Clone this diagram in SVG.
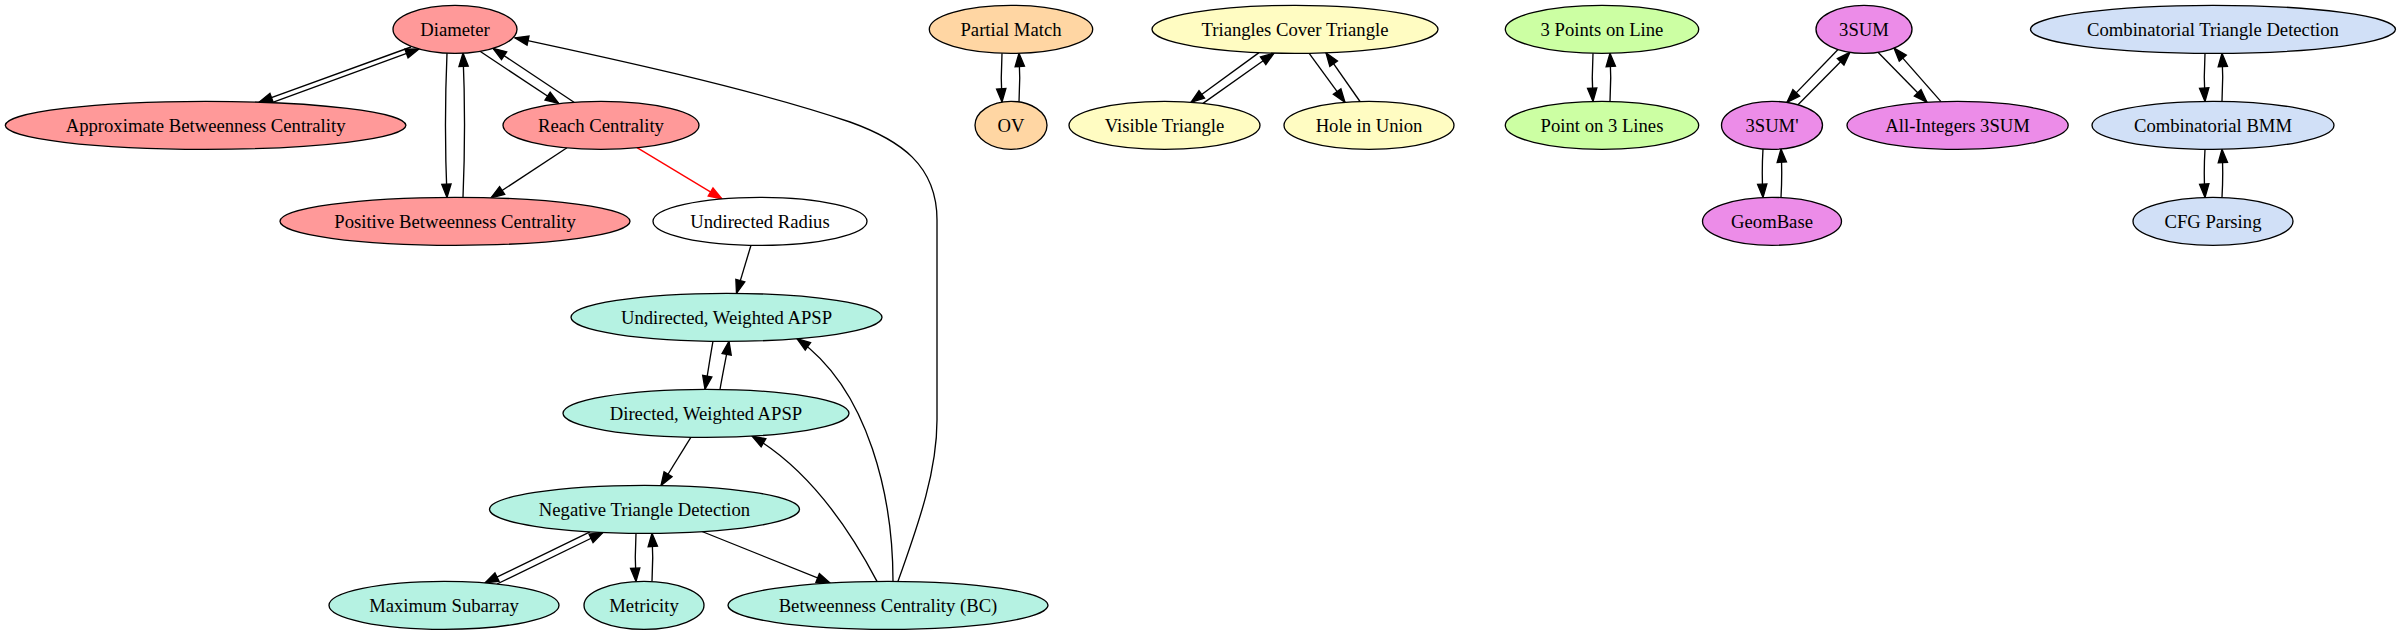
<svg xmlns="http://www.w3.org/2000/svg" width="2401" height="635" viewBox="0 0 2401 635">
<style>
.n ellipse{stroke:#000;stroke-width:1.33}
.n text{font-family:"Liberation Serif","Times New Roman",serif;font-size:18.67px;text-anchor:middle;fill:#000}
.red ellipse{fill:#ff9999}
.teal ellipse{fill:#b5f2e2}
.white ellipse{fill:#ffffff}
.orange ellipse{fill:#ffd6a3}
.yellow ellipse{fill:#fffcc2}
.green ellipse{fill:#ccffa3}
.mag ellipse{fill:#ec8ce8}
.blue ellipse{fill:#d1e0f7}
#edges path{fill:none;stroke:#000;stroke-width:1.33;marker-end:url(#ah)}
#edges path.r{stroke:#ff0000;marker-end:url(#ahr)}
</style>
<defs>
<marker id="ah" viewBox="0 0 14 10" refX="13.33" refY="5" markerWidth="14" markerHeight="10" orient="auto" markerUnits="userSpaceOnUse" overflow="visible"><path d="M0,0.33 L13.33,5 L0,9.67 z" fill="#000" stroke="#000" stroke-width="1.33"/></marker>
<marker id="ahr" viewBox="0 0 14 10" refX="13.33" refY="5" markerWidth="14" markerHeight="10" orient="auto" markerUnits="userSpaceOnUse" overflow="visible"><path d="M0,0.33 L13.33,5 L0,9.67 z" fill="#ff0000" stroke="#ff0000" stroke-width="1.33"/></marker>
</defs>
<rect width="2401" height="635" fill="#fff"/>
<g id="edges">
<path d="M411,47 L259,102.2"/>
<path d="M272,102.7 L419,48.9"/>
<path d="M480,51.3 L558.7,103.5"/>
<path d="M574,102.3 L493,48.3"/>
<path d="M447,53.1 C445,100 445,150 447,197.4"/>
<path d="M463,197.4 C465,150 465,100 463,53.1"/>
<path d="M567,147.8 L491,197.8"/>
<path class="r" d="M637,147.6 L722,198.9"/>
<path d="M751,245.2 L736.5,293.4"/>
<path d="M713,341.2 C710,358 708,372 705,389.3"/>
<path d="M720,389.4 C723,372 726,358 729,341.3"/>
<path d="M691,437.2 L661,485.5"/>
<path d="M590,531.8 L485,582.9"/>
<path d="M497,584 L603,532.5"/>
<path d="M636,533.3 C635,550 635,565 636,581.5"/>
<path d="M652,581.5 C653,565 653,550 652,533.2"/>
<path d="M702,531.5 L830,582.9"/>
<path d="M877,581.4 C850,530 810,470 752,436"/>
<path d="M893,581.3 C893,500 870,390 797,338.7"/>
<path d="M898,581.3 C920,520 937,470 937,420 L937,220 C937,165 900,140 850,122 C750,88 600,56 515,37.8"/>
<path d="M1002,53.2 C1001,70 1001,85 1002,102.1"/>
<path d="M1019,102.3 C1020,85 1020,70 1019,53.2"/>
<path d="M1259,52.6 L1191,102.3"/>
<path d="M1203,103.4 L1274,53.1"/>
<path d="M1309,53.2 L1345,102.3"/>
<path d="M1360,101.5 L1326,52.8"/>
<path d="M1593,53.2 C1592,70 1592,85 1593,101.5"/>
<path d="M1610,101.5 C1611,85 1611,70 1610,53.2"/>
<path d="M1838,49.5 L1787,102.4"/>
<path d="M1798,104.8 L1850,52.3"/>
<path d="M1878,52.3 L1927,102.3"/>
<path d="M1941,101.6 L1894,48.1"/>
<path d="M1763,148.9 C1762,165 1762,180 1763,197.5"/>
<path d="M1781,197.5 C1782,180 1782,165 1781,148.9"/>
<path d="M2205,53.3 C2204,70 2204,85 2205,101.4"/>
<path d="M2222,101.4 C2223,85 2223,70 2222,53.3"/>
<path d="M2205,149.3 C2204,165 2204,180 2205,197.4"/>
<path d="M2222,197.4 C2223,180 2223,165 2222,149.3"/>
</g>
<g id="node-diameter" class="n red"><ellipse cx="455" cy="29.33" rx="62" ry="24"/><text x="455" y="35.6">Diameter</text></g>
<g id="node-abc" class="n red"><ellipse cx="205.6" cy="125.33" rx="200.3" ry="24"/><text x="205.6" y="131.6">Approximate Betweenness Centrality</text></g>
<g id="node-reach" class="n red"><ellipse cx="601" cy="125.33" rx="98" ry="24"/><text x="601" y="131.6">Reach Centrality</text></g>
<g id="node-pbc" class="n red"><ellipse cx="455" cy="221.33" rx="175" ry="24"/><text x="455" y="227.6">Positive Betweenness Centrality</text></g>
<g id="node-urad" class="n white"><ellipse cx="760" cy="221.33" rx="107" ry="24"/><text x="760" y="227.6">Undirected Radius</text></g>
<g id="node-uwapsp" class="n teal"><ellipse cx="726.5" cy="317.33" rx="155.5" ry="24"/><text x="726.5" y="323.6">Undirected, Weighted APSP</text></g>
<g id="node-dwapsp" class="n teal"><ellipse cx="706" cy="413.33" rx="143" ry="24"/><text x="706" y="419.6">Directed, Weighted APSP</text></g>
<g id="node-ntd" class="n teal"><ellipse cx="644.5" cy="509.33" rx="155" ry="24"/><text x="644.5" y="515.6">Negative Triangle Detection</text></g>
<g id="node-maxsub" class="n teal"><ellipse cx="444" cy="605.33" rx="115" ry="24"/><text x="444" y="611.6">Maximum Subarray</text></g>
<g id="node-metricity" class="n teal"><ellipse cx="644" cy="605.33" rx="60" ry="24"/><text x="644" y="611.6">Metricity</text></g>
<g id="node-bc" class="n teal"><ellipse cx="888" cy="605.33" rx="160" ry="24"/><text x="888" y="611.6">Betweenness Centrality (BC)</text></g>
<g id="node-pm" class="n orange"><ellipse cx="1011" cy="29.33" rx="81.7" ry="24"/><text x="1011" y="35.6">Partial Match</text></g>
<g id="node-ov" class="n orange"><ellipse cx="1011" cy="125.33" rx="36" ry="24"/><text x="1011" y="131.6">OV</text></g>
<g id="node-tct" class="n yellow"><ellipse cx="1295" cy="29.33" rx="143" ry="24"/><text x="1295" y="35.6">Triangles Cover Triangle</text></g>
<g id="node-vis" class="n yellow"><ellipse cx="1164.5" cy="125.33" rx="95.5" ry="24"/><text x="1164.5" y="131.6">Visible Triangle</text></g>
<g id="node-hole" class="n yellow"><ellipse cx="1369" cy="125.33" rx="85" ry="24"/><text x="1369" y="131.6">Hole in Union</text></g>
<g id="node-3pol" class="n green"><ellipse cx="1602" cy="29.33" rx="96.7" ry="24"/><text x="1602" y="35.6">3 Points on Line</text></g>
<g id="node-po3l" class="n green"><ellipse cx="1602" cy="125.33" rx="96.7" ry="24"/><text x="1602" y="131.6">Point on 3 Lines</text></g>
<g id="node-3sum" class="n mag"><ellipse cx="1864" cy="29.33" rx="48" ry="24"/><text x="1864" y="35.6">3SUM</text></g>
<g id="node-3sump" class="n mag"><ellipse cx="1772" cy="125.33" rx="50.5" ry="24"/><text x="1772" y="131.6">3SUM'</text></g>
<g id="node-allint" class="n mag"><ellipse cx="1957.6" cy="125.33" rx="110.6" ry="24"/><text x="1957.6" y="131.6">All-Integers 3SUM</text></g>
<g id="node-geombase" class="n mag"><ellipse cx="1772" cy="221.33" rx="69.5" ry="24"/><text x="1772" y="227.6">GeomBase</text></g>
<g id="node-ctd" class="n blue"><ellipse cx="2213" cy="29.33" rx="182.5" ry="24"/><text x="2213" y="35.6">Combinatorial Triangle Detection</text></g>
<g id="node-cbmm" class="n blue"><ellipse cx="2213" cy="125.33" rx="121" ry="24"/><text x="2213" y="131.6">Combinatorial BMM</text></g>
<g id="node-cfg" class="n blue"><ellipse cx="2213" cy="221.33" rx="80" ry="24"/><text x="2213" y="227.6">CFG Parsing</text></g>
</svg>
